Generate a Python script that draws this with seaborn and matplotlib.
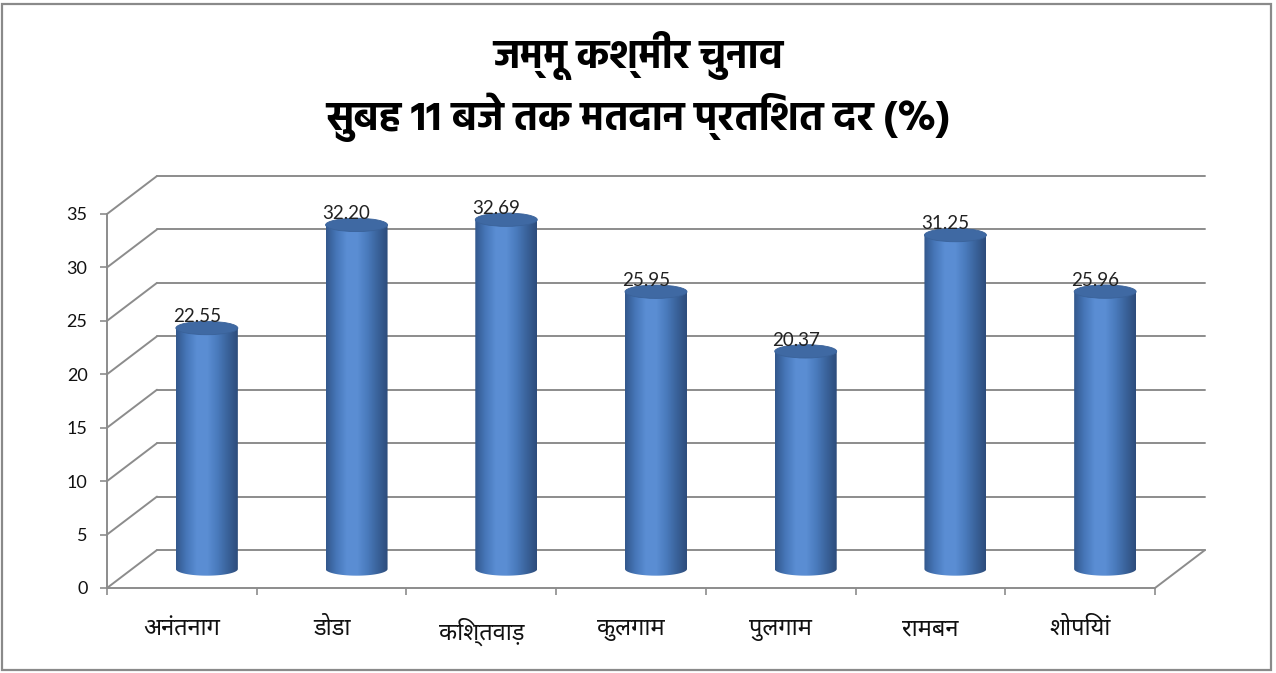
import numpy as np
import pandas as pd
import matplotlib
matplotlib.use("Agg")
import matplotlib.pyplot as plt
import matplotlib.transforms as mtransforms
from matplotlib import font_manager
from matplotlib.ft2font import FT2Font
from matplotlib.path import Path
from matplotlib.patches import PathPatch, Ellipse, Rectangle
from matplotlib.colors import LinearSegmentedColormap
import seaborn as sns

# data
districts = ["अनंतनाग", "डोडा", "किश्तवाड़", "कुलगाम", "पुलगाम", "रामबन", "शोपियां"]
turnout = [22.55, 32.20, 32.69, 25.95, 20.37, 31.25, 25.96]
y_ticks = [0, 5, 10, 15, 20, 25, 30, 35]
title_lines = ["जम्मू कश्मीर चुनाव", "सुबह 11 बजे तक मतदान प्रतिशत दर (%)"]

df = pd.DataFrame({"district": districts, "turnout": turnout})

# fonts with Devanagari glyphs
deva_fonts = []
for f in font_manager.fontManager.ttflist:
    try:
        if 0x0915 in FT2Font(f.fname).get_charmap():
            deva_fonts.append(f)
    except Exception:
        pass
deva_names = {f.name for f in deva_fonts}
prefer = ["Noto Sans Devanagari", "Hind", "Mukta", "Poppins", "Yantramanav", "FreeSans"]
deva = next((n for n in prefer if n in deva_names), None)
if deva is None and deva_names:
    deva = sorted(deva_names)[0]

# a real bold face for the title
title_fp = None
for n in ["Hind", "Noto Sans Devanagari", "Yantramanav", "Mukta", "Poppins", "FreeSans"]:
    bolds = [f for f in deva_fonts if f.name == n and isinstance(f.weight, int)
             and 700 <= f.weight <= 800 and "[" not in f.fname]
    if bolds:
        bolds.sort(key=lambda f: f.weight)
        title_fp = font_manager.FontProperties(fname=bolds[0].fname, size=29)
        break

sns.set_theme(style="white")
fams = [deva, "DejaVu Sans"] if deva else ["DejaVu Sans"]
plt.rcParams["font.family"] = fams
num_font = ["Lato", "DejaVu Sans"]

W, H = 1276, 673
fig = plt.figure(figsize=(W / 100, H / 100), dpi=100)
fig.patch.set_facecolor("white")
# front plane of the 3d box
ax = fig.add_axes([107 / W, 1 - 588 / H, (1155 - 107) / W, (588 - 214) / H])

sns.barplot(data=df, x="district", y="turnout", ax=ax, width=0.414,
            color="#4a7bbf", saturation=1, errorbar=None, zorder=3)

ax.set_xlim(-0.5, len(districts) - 0.5)
ax.set_ylim(0, 35)

back = ax.transData + mtransforms.ScaledTranslation(0.50, 0.38, fig.dpi_scale_trans)
mid = ax.transData + mtransforms.ScaledTranslation(0.25, 0.19, fig.dpi_scale_trans)
grid_c = "#8c8c8c"
inv = ax.transData.inverted()

# walls: side diagonals + back gridlines
for t in y_ticks:
    a = (-0.5, t)
    b = inv.transform(back.transform(a))
    ax.plot([a[0], b[0]], [a[1], b[1]], color=grid_c, lw=1.4, clip_on=False, zorder=1)
    ax.plot([-0.5, len(districts) - 0.5], [t, t], color=grid_c, lw=1.4,
            transform=back, clip_on=False, zorder=1)
# floor right edge
a = (len(districts) - 0.5, 0)
b = inv.transform(back.transform(a))
ax.plot([a[0], b[0]], [a[1], b[1]], color=grid_c, lw=1.4, clip_on=False, zorder=1)

# cylinders
cyl_cmap = LinearSegmentedColormap.from_list(
    "cyl", ["#33578c", "#4676b8", "#5a8dd3", "#5b8ed4", "#4a7bbd", "#3a639b", "#2d4c7b"])
ell_h = 1.25
grad = np.linspace(0, 1, 256).reshape(1, -1)
for p, v in zip(ax.patches, turnout):
    x0, w = p.get_x(), p.get_width()
    cx = x0 + w / 2
    p.set_visible(False)
    tt = np.linspace(np.pi, 2 * np.pi, 60)
    bx = cx + w / 2 * np.cos(tt)
    by = ell_h / 2 * np.sin(tt)
    verts = [(x0, v)] + list(zip(bx, by)) + [(x0 + w, v), (x0, v)]
    codes = [Path.MOVETO] + [Path.LINETO] * (len(verts) - 2) + [Path.CLOSEPOLY]
    clip = PathPatch(Path(verts, codes), transform=mid, facecolor="none",
                     edgecolor="none", clip_on=False)
    ax.add_patch(clip)
    im = ax.imshow(grad, cmap=cyl_cmap, aspect="auto",
                   extent=(x0, x0 + w, -ell_h, v + 1), zorder=3)
    im.set_transform(mid)
    im.set_clip_path(clip)
    top = Ellipse((cx, v), w, ell_h, transform=mid, facecolor="#3f69a3",
                  edgecolor="#3a6299", lw=0.6, zorder=4, clip_on=False)
    ax.add_patch(top)
    lab = mtransforms.offset_copy(mid, fig=fig, x=-10, y=-1, units="dots")
    ax.text(cx, v + ell_h / 2, f"{v:.2f}", transform=lab, ha="center",
            va="baseline", fontsize=13.5, color="#222222", family=num_font,
            zorder=5)

ax.set_xlim(-0.5, len(districts) - 0.5)
ax.set_ylim(0, 35)

# axes frame
for s in ["top", "right"]:
    ax.spines[s].set_visible(False)
for s in ["left", "bottom"]:
    ax.spines[s].set_color(grid_c)
    ax.spines[s].set_linewidth(1.4)
    ax.spines[s].set_zorder(2)

ax.set_yticks(y_ticks)
ax.set_yticklabels([str(t) for t in y_ticks], family=num_font, fontsize=13)
ax.set_xticks(np.arange(-0.5, len(districts)), labels=[""] * (len(districts) + 1))
ax.set_xticks(np.arange(len(districts)), labels=districts, minor=True)
ax.tick_params(axis="y", which="major", left=True, length=5, width=1.2,
               color=grid_c, pad=9, labelcolor="#111111")
ax.tick_params(axis="x", which="major", bottom=True, length=5, width=1.2,
               color=grid_c)
ax.tick_params(axis="x", which="minor", bottom=True, length=0, pad=21,
               labelsize=17, labelcolor="#111111")
ax.set_xlabel("")
ax.set_ylabel("")
ax.grid(False)
ax.set_facecolor("none")

tkw = dict(ha="center", va="center", color="#000000")
if title_fp is not None:
    tkw["fontproperties"] = title_fp
else:
    tkw.update(fontsize=29, fontweight="bold")
fig.text(0.5, 1 - 55 / H, title_lines[0], **tkw)
fig.text(0.5, 1 - 117 / H, title_lines[1], **tkw)

fig.patches.append(Rectangle((2 / W, 3 / H), 1269 / W, 666 / H, transform=fig.transFigure,
                             fill=False, edgecolor="#8a8a8a", lw=1.6))

fig.savefig("out.png", dpi=100, facecolor="white")
